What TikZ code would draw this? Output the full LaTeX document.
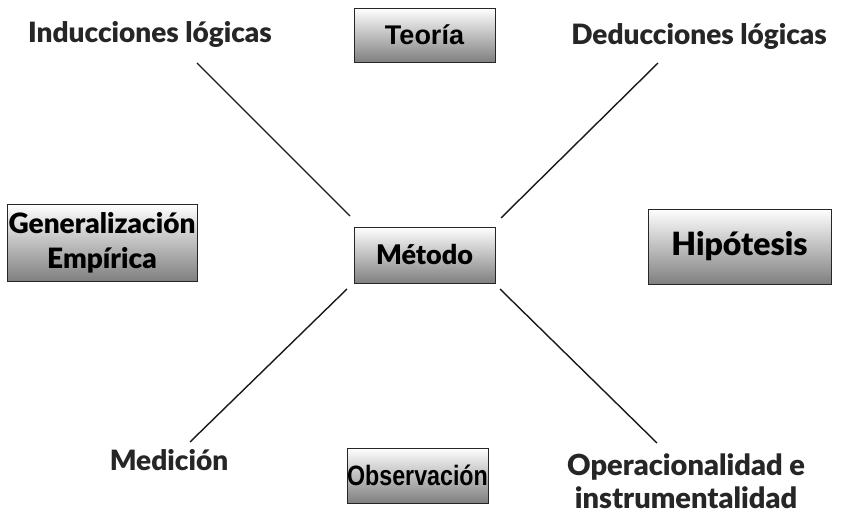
\documentclass[tikz,border=0pt]{standalone}
\usepackage{fontspec}
\setmainfont{Lato}[BoldFont={Lato Black}]
\newfontfamily\arialf{Liberation Sans}
\begin{document}
\begin{tikzpicture}[x=1pt,y=-1pt,
  gbox/.style={draw=black!85, line width=0.9pt, top color=white, bottom color=black!50, shading angle=0, inner sep=0pt, align=center},
  lbl/.style={font=\fontsize{28}{30}\selectfont\bfseries, text=black!85, inner sep=0pt, align=center},
  conn/.style={line width=1.4pt, black!90}]
\useasboundingbox (0,0) rectangle (844,513);
\node[gbox, minimum width=141pt, minimum height=54pt, font=\arialf\fontsize{27}{30}\selectfont\bfseries] (teoria) at (424.5,35) {Teoría};
\node[gbox, minimum width=141pt, minimum height=56pt, font=\fontsize{27}{30}\selectfont\bfseries] (metodo) at (424.5,255) {Método};
\node[gbox, minimum width=190pt, minimum height=77pt, font=\fontsize{28}{35}\selectfont\bfseries] (gen) at (102,242.5) {Generalización\\Empírica};
\node[gbox, minimum width=183pt, minimum height=75pt, font=\fontsize{32}{30}\selectfont\bfseries] (hip) at (739.5,246.5) {Hipótesis};
\node[gbox, minimum width=141pt, minimum height=55pt, font=\arialf\fontsize{28}{30}\selectfont\bfseries] (obs) at (417.5,475.5) {\scalebox{0.83}[1]{Observación}};
\node[lbl, anchor=base] (ind) at (150,43) {Inducciones lógicas};
\node[lbl, anchor=base] (ded) at (699,45) {Deducciones lógicas};
\node[lbl, anchor=base] (med) at (169,470) {Medición};
\node[lbl, anchor=base, font=\fontsize{29}{30}\selectfont\bfseries] (ope) at (686,475) {Operacionalidad e};
\node[lbl, anchor=base, font=\fontsize{29}{30}\selectfont\bfseries] (ins) at (686,508) {instrumentalidad};
\coordinate (a1) at (197,63);  \coordinate (a2) at (350,216);
\coordinate (b1) at (658,63);  \coordinate (b2) at (501,218);
\coordinate (c1) at (347,289); \coordinate (c2) at (190,442);
\coordinate (d1) at (500,289); \coordinate (d2) at (657,443);
\draw[conn] (a1) -- (a2);
\draw[conn] (b1) -- (b2);
\draw[conn] (c1) -- (c2);
\draw[conn] (d1) -- (d2);
\end{tikzpicture}
\end{document}
